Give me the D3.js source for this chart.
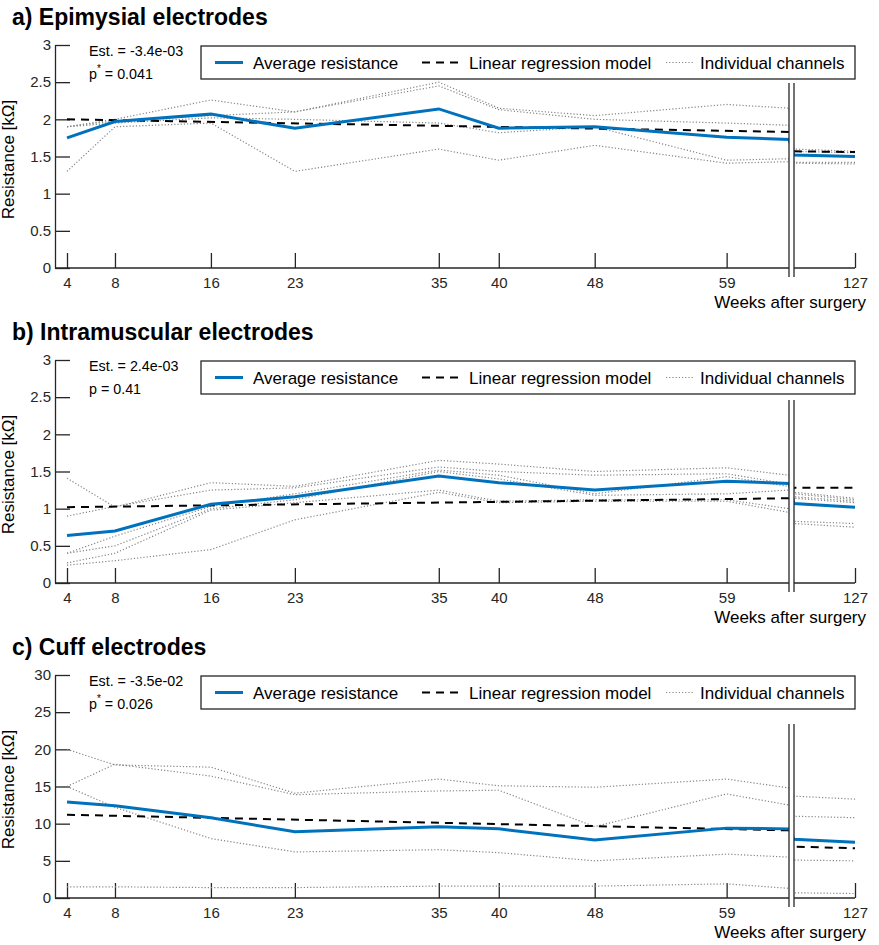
<!DOCTYPE html>
<html>
<head>
    <title>Electrode resistance over time</title>
    <script src="https://cdnjs.cloudflare.com/ajax/libs/d3/7.8.5/d3.min.js"></script>
    <style>
        body { margin: 0; background: #fff; }
        svg { font-family: "Liberation Sans", Arial, Helvetica, sans-serif; }
        .axis text { font-size: 15px; fill: #262626; }
        .axis line, .axis path { stroke: #262626; stroke-width: 1.3; }
        .avg-line { fill: none; stroke: #0072bd; stroke-width: 3; }
        .reg-line { fill: none; stroke: #000; stroke-width: 2; stroke-dasharray: 8,6; }
        .chan-line { fill: none; stroke: #858585; stroke-width: 1.2; stroke-dasharray: 1.2,2; }
        .legend-text { font-size: 17px; fill: #000; }
        .stat-text { font-size: 14.3px; fill: #000; }
        .title { font-size: 23px; font-weight: bold; fill: #000; }
    </style>
</head>
<body>
    <script>
        // weeks after surgery; 64.2 and 121.9 are the left/right edges of the axis break
        const weeks = [4, 8, 16, 23, 35, 40, 48, 59, 64.2, 121.9, 127];
        const regWeeks = [4, 64.2, 121.9, 127];
        const tickWeeks = [4, 8, 16, 23, 35, 40, 48, 59, 127];
        const yTicksSmall = [0, 0.5, 1, 1.5, 2, 2.5, 3];
        const yTicksCuff = [0, 5, 10, 15, 20, 25, 30];
        const legendLabels = ['Average resistance', 'Linear regression model', 'Individual channels'];

        // a) Epimysial
        const epiAverage = [1.75, 1.97, 2.07, 1.88, 2.14, 1.88, 1.90, 1.76, 1.73, 1.52, 1.50];
        const epiRegression = [2.00, 1.83, 1.57, 1.56];
        const epiChannels = [
            [1.90, 2.00, 2.26, 2.10, 2.50, 2.15, 2.05, 2.20, 2.15, 1.60, 1.57],
            [1.90, 1.98, 2.05, 2.10, 2.45, 2.13, 2.00, 1.95, 1.92, 1.57, 1.55],
            [1.90, 1.95, 2.02, 2.00, 1.95, 1.82, 1.90, 1.45, 1.47, 1.42, 1.42],
            [1.30, 1.90, 1.95, 1.30, 1.60, 1.45, 1.65, 1.41, 1.43, 1.41, 1.40]
        ];

        // b) Intramuscular
        const imAverage = [0.64, 0.70, 1.06, 1.16, 1.44, 1.35, 1.25, 1.37, 1.34, 1.07, 1.02];
        const imRegression = [1.02, 1.14, 1.28, 1.28];
        const imChannels = [
            [1.41, 1.02, 1.35, 1.30, 1.65, 1.60, 1.50, 1.55, 1.45, 1.22, 1.14],
            [0.90, 1.03, 1.25, 1.28, 1.56, 1.50, 1.45, 1.47, 1.33, 1.20, 1.12],
            [0.40, 0.63, 1.03, 1.20, 1.52, 1.45, 1.20, 1.43, 1.30, 1.16, 1.10],
            [0.40, 0.50, 1.00, 1.12, 1.50, 1.40, 1.18, 1.20, 1.25, 1.14, 1.08],
            [0.27, 0.40, 0.98, 1.08, 1.25, 1.10, 1.12, 1.12, 1.00, 0.83, 0.80],
            [0.24, 0.30, 0.45, 0.85, 1.22, 1.08, 1.10, 1.10, 0.95, 0.80, 0.75]
        ];

        // c) Cuff
        const cuffAverage = [12.9, 12.4, 10.8, 8.9, 9.6, 9.3, 7.8, 9.4, 9.3, 7.9, 7.5];
        const cuffRegression = [11.2, 9.1, 6.9, 6.7];
        const cuffChannels = [
            [20.0, 17.9, 17.6, 14.1, 16.0, 15.1, 14.9, 16.0, 14.8, 13.7, 13.3],
            [15.0, 18.0, 16.4, 13.9, 14.4, 14.5, 9.6, 14.0, 12.5, 11.0, 10.8],
            [15.0, 12.2, 8.0, 6.2, 6.5, 6.1, 5.0, 5.9, 5.5, 5.1, 5.0],
            [1.5, 1.5, 1.4, 1.4, 1.6, 1.6, 1.6, 1.9, 1.3, 0.7, 0.6]
        ];

        const panels = [
            { title: 'a) Epimysial electrodes', top: 45, yMax: 3, yTicks: yTicksSmall,
              avg: epiAverage, reg: epiRegression, chans: epiChannels,
              est: 'Est. = -3.4e-03', p: '0.041', sig: true, breakTop: 83 },
            { title: 'b) Intramuscular electrodes', top: 360, yMax: 3, yTicks: yTicksSmall,
              avg: imAverage, reg: imRegression, chans: imChannels,
              est: 'Est. = 2.4e-03', p: '0.41', sig: false, breakTop: 400 },
            { title: 'c) Cuff electrodes', top: 675, yMax: 30, yTicks: yTicksCuff,
              avg: cuffAverage, reg: cuffRegression, chans: cuffChannels,
              est: 'Est. = -3.5e-02', p: '0.026', sig: true, breakTop: 724 }
        ];

        const plotHeight = 223;
        const axisX = 55;
        const breakLeft = 789, breakRight = 794;

        const svg = d3.select('body').append('svg')
            .attr('width', 879)
            .attr('height', 945);

        const x = d3.scaleLinear()
            .domain([4, 64.2, 121.9, 127])
            .range([67, breakLeft, breakRight, 855]);

        panels.forEach(pn => {
            const bottom = pn.top + plotHeight;
            const y = d3.scaleLinear().domain([0, pn.yMax]).range([bottom, pn.top]);
            const g = svg.append('g');

            // title
            g.append('text')
                .attr('class', 'title')
                .attr('x', 12)
                .attr('y', bottom - 243)
                .text(pn.title);

            // y axis (ticks pointing inward)
            g.append('g')
                .attr('class', 'axis')
                .attr('transform', `translate(${axisX},0)`)
                .call(d3.axisLeft(y).tickValues(pn.yTicks).tickSize(-15).tickSizeOuter(0).tickPadding(4)
                    .tickFormat(d3.format('')));

            // x axis
            const xa = g.append('g')
                .attr('class', 'axis')
                .attr('transform', `translate(0,${bottom})`)
                .call(d3.axisBottom(x).tickValues(tickWeeks).tickSize(-15).tickSizeOuter(0).tickPadding(9));
            xa.select('.domain').remove();
            xa.append('line')
                .attr('x1', axisX).attr('x2', x(127))
                .attr('y1', 0).attr('y2', 0);

            // lines
            const line = d3.line().x((d, i) => x(weeks[i])).y(d => y(d));
            const regLine = d3.line().x((d, i) => x(regWeeks[i])).y(d => y(d));

            g.selectAll('.chan-line')
                .data(pn.chans)
                .enter()
                .append('path')
                .attr('class', 'chan-line')
                .attr('d', line);

            g.append('path')
                .attr('class', 'reg-line')
                .attr('d', regLine(pn.reg));

            g.append('path')
                .attr('class', 'avg-line')
                .attr('d', line(pn.avg));

            // axis break
            g.append('rect')
                .attr('x', breakLeft)
                .attr('y', pn.breakTop)
                .attr('width', breakRight - breakLeft)
                .attr('height', bottom + 9 - pn.breakTop)
                .attr('fill', '#fff');
            [breakLeft, breakRight].forEach(bx => {
                g.append('line')
                    .attr('x1', bx).attr('x2', bx)
                    .attr('y1', pn.breakTop).attr('y2', bottom + 9)
                    .attr('stroke', '#262626')
                    .attr('stroke-width', 1.3);
            });

            // stats
            g.append('text')
                .attr('class', 'stat-text')
                .attr('x', 89)
                .attr('y', pn.top + 11)
                .text(pn.est);
            const pt = g.append('text')
                .attr('class', 'stat-text')
                .attr('x', 89)
                .attr('y', pn.top + 34);
            pt.append('tspan').text('p');
            if (pn.sig) {
                pt.append('tspan').attr('dy', -7).style('font-size', '10px').text('*');
                pt.append('tspan').attr('dy', 7).text(' = ' + pn.p);
            } else {
                pt.append('tspan').text(' = ' + pn.p);
            }

            // legend
            const lg = g.append('g').attr('transform', `translate(201,${pn.top + 1})`);
            lg.append('rect')
                .attr('width', 654)
                .attr('height', 33)
                .attr('fill', '#fff')
                .attr('stroke', '#262626')
                .attr('stroke-width', 1.3);
            const items = [
                { cls: 'avg-line', x1: 14, x2: 42, tx: 52 },
                { cls: 'reg-line', x1: 221, x2: 261, tx: 268 },
                { cls: 'chan-line', x1: 465, x2: 492, tx: 499 }
            ];
            items.forEach((it, i) => {
                lg.append('line')
                    .attr('class', it.cls)
                    .attr('x1', it.x1).attr('x2', it.x2)
                    .attr('y1', 16.5).attr('y2', 16.5);
                lg.append('text')
                    .attr('class', 'legend-text')
                    .attr('x', it.tx)
                    .attr('y', 22.5)
                    .text(legendLabels[i]);
            });

            // axis labels
            g.append('text')
                .attr('transform', 'rotate(-90)')
                .attr('x', -(pn.top + bottom) / 2 - 3)
                .attr('y', 14)
                .attr('text-anchor', 'middle')
                .style('font-size', '17px')
                .text('Resistance [kΩ]');

            g.append('text')
                .attr('x', 866)
                .attr('y', bottom + 40)
                .attr('text-anchor', 'end')
                .style('font-size', '17px')
                .text('Weeks after surgery');
        });
    </script>
</body>
</html>
